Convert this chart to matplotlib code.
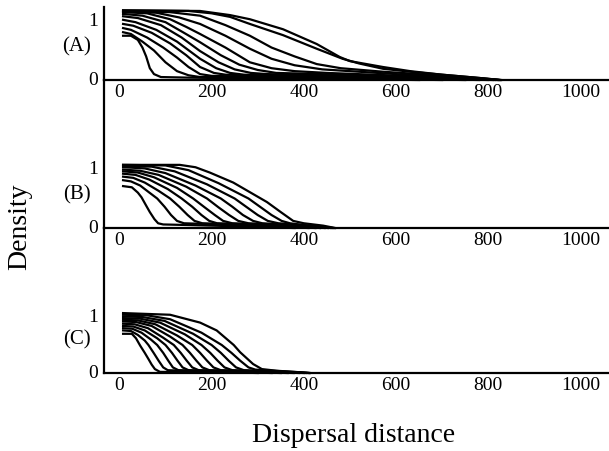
import matplotlib
matplotlib.use("Agg")
import matplotlib.pyplot as plt
import matplotlib.transforms as mtransforms

plt.rcParams['font.family'] = ['Liberation Serif', 'DejaVu Serif']

# Density profiles (distance, density) at successive times, one list per curve
panel_a = [
    [(8, .75), (25, .75), (40, .68), (50, .55), (58, .40), (66, .20), (75, .10), (90, .05), (150, .04), (250, .03), (400, .02), (550, .01), (650, 0)],
    [(8, .81), (25, .78), (50, .65), (75, .50), (100, .30), (125, .15), (150, .08), (175, .05), (300, .04), (450, .025), (600, .01), (700, 0)],
    [(8, .88), (25, .85), (60, .72), (95, .55), (125, .38), (150, .22), (175, .10), (200, .07), (320, .05), (470, .03), (620, .015), (750, 0)],
    [(8, .95), (30, .92), (70, .80), (110, .62), (145, .42), (175, .22), (205, .12), (230, .09), (350, .07), (500, .05), (650, .02), (780, 0)],
    [(8, 1.02), (35, .98), (80, .85), (125, .65), (175, .36), (210, .20), (240, .12), (270, .09), (400, .07), (550, .05), (700, .02), (800, 0)],
    [(8, 1.08), (40, 1.05), (90, .93), (135, .72), (175, .49), (215, .30), (250, .18), (285, .12), (320, .10), (450, .08), (600, .05), (720, .02), (810, 0)],
    [(8, 1.12), (50, 1.09), (100, .98), (140, .80), (175, .64), (220, .42), (260, .26), (300, .17), (340, .12), (480, .09), (640, .05), (750, .02), (815, 0)],
    [(8, 1.15), (60, 1.13), (110, 1.03), (145, .90), (175, .78), (230, .55), (283, .30), (330, .20), (380, .15), (450, .12), (550, .09), (680, .05), (770, .02), (820, 0)],
    [(8, 1.16), (80, 1.14), (130, 1.06), (175, .95), (230, .75), (283, .53), (330, .36), (380, .25), (440, .18), (520, .14), (620, .09), (710, .05), (785, .02), (822, 0)],
    [(8, 1.17), (110, 1.15), (175, 1.09), (230, .93), (283, .75), (330, .55), (380, .40), (428, .27), (480, .20), (572, .14), (631, .11), (700, .07), (780, .03), (824, 0)],
    [(8, 1.18), (150, 1.17), (200, 1.13), (240, 1.07), (283, .95), (355, .76), (428, .53), (484, .36), (520, .28), (572, .19), (631, .14), (700, .09), (780, .035), (826, 0)],
    [(8, 1.18), (175, 1.17), (240, 1.10), (283, 1.03), (355, .86), (428, .61), (478, .39), (500, .32), (572, .22), (631, .15), (700, .09), (780, .035), (828, 0)],
]

panel_b = [
    [(8, .71), (27, .69), (40, .60), (48, .52), (58, .38), (66, .27), (76, .15), (84, .08), (95, .06), (150, .05), (250, .03), (330, .01), (380, 0)],
    [(8, .81), (25, .79), (45, .72), (65, .60), (82, .50), (98, .36), (112, .22), (125, .12), (140, .08), (220, .06), (300, .04), (380, .01), (410, 0)],
    [(8, .87), (30, .85), (55, .77), (85, .63), (110, .50), (130, .36), (148, .22), (163, .12), (180, .08), (260, .06), (340, .03), (400, .01), (425, 0)],
    [(8, .92), (35, .90), (65, .82), (105, .66), (135, .50), (158, .36), (178, .22), (195, .12), (212, .08), (290, .06), (360, .03), (420, .01), (435, 0)],
    [(8, .96), (40, .94), (75, .86), (125, .68), (160, .50), (185, .35), (207, .22), (225, .12), (245, .08), (310, .06), (380, .03), (430, .01), (445, 0)],
    [(8, .99), (45, .97), (85, .90), (145, .70), (190, .50), (215, .35), (238, .22), (258, .12), (280, .08), (335, .06), (395, .03), (440, .01), (452, 0)],
    [(8, 1.03), (55, 1.01), (100, .93), (165, .72), (220, .50), (245, .36), (268, .22), (290, .12), (310, .08), (355, .06), (410, .03), (450, .01), (458, 0)],
    [(8, 1.05), (70, 1.04), (120, .96), (190, .74), (250, .50), (275, .36), (300, .22), (322, .12), (345, .08), (380, .06), (425, .03), (455, .01), (462, 0)],
    [(8, 1.07), (100, 1.06), (150, .98), (215, .76), (280, .50), (305, .36), (330, .22), (352, .12), (370, .08), (400, .05), (440, .02), (465, 0)],
    [(8, 1.07), (131, 1.07), (165, 1.03), (196, .94), (247, .77), (320, .44), (350, .27), (377, .12), (400, .08), (442, .04), (468, 0)],
]

panel_c = [
    [(8, .70), (27, .70), (36, .62), (45, .49), (55, .36), (63, .25), (70, .15), (77, .07), (88, .02), (150, .015), (250, .01), (300, 0)],
    [(8, .76), (25, .75), (40, .68), (55, .58), (63, .50), (75, .35), (85, .22), (95, .10), (105, .05), (180, .03), (270, .015), (330, 0)],
    [(8, .80), (28, .79), (48, .72), (68, .60), (82, .50), (95, .36), (106, .22), (116, .10), (128, .05), (200, .035), (290, .015), (350, 0)],
    [(8, .84), (30, .83), (55, .76), (82, .62), (100, .50), (114, .36), (126, .22), (137, .10), (150, .05), (220, .035), (310, .015), (365, 0)],
    [(8, .88), (33, .87), (62, .80), (95, .63), (118, .50), (133, .36), (146, .22), (158, .10), (172, .05), (240, .035), (325, .015), (378, 0)],
    [(8, .92), (36, .91), (70, .84), (110, .65), (137, .50), (153, .36), (167, .22), (180, .10), (195, .05), (260, .035), (340, .015), (390, 0)],
    [(8, .95), (40, .94), (78, .87), (125, .67), (158, .50), (175, .36), (190, .22), (204, .10), (220, .05), (280, .035), (355, .015), (400, 0)],
    [(8, .98), (45, .97), (88, .90), (142, .69), (178, .50), (197, .36), (213, .22), (228, .10), (245, .05), (300, .035), (365, .015), (405, 0)],
    [(8, 1.01), (50, 1.0), (98, .93), (160, .70), (200, .50), (220, .36), (237, .22), (253, .10), (270, .05), (320, .035), (375, .015), (410, 0)],
    [(8, 1.04), (60, 1.03), (110, .96), (178, .72), (222, .50), (243, .36), (262, .22), (280, .10), (295, .06), (335, .04), (385, .015), (412, 0)],
    [(8, 1.07), (110, 1.04), (175, .90), (211, .76), (248, .50), (262, .37), (290, .16), (309, .07), (341, .04), (380, .02), (413, 0)],
]

panel_names = ["(A)", "(B)", "(C)"]
x_ticks = [0, 200, 400, 600, 800, 1000]
y_ticks = [0, 1]

W, H = 609, 452
fig = plt.figure(figsize=(W / 100, H / 100), dpi=100)

# panel frames in pixels: (top, bottom, pixels per density unit)
frames = [(8, 81, 59.0), (81, 229, 59.0), (229, 374, 56.0)]
left_px, right_px = 104, 609
xlim = (-33.4, 1062)

label_shift = mtransforms.ScaledTranslation(0, 2.5 / 100, fig.dpi_scale_trans)

for curves, name, (top, bot, scale) in zip([panel_a, panel_b, panel_c], panel_names, frames):
    ax = fig.add_axes([left_px / W, (H - bot) / H, (right_px - left_px) / W, (bot - top) / H])
    ax.set_facecolor('none')
    for curve in curves:
        xs = [p[0] for p in curve]
        ys = [p[1] for p in curve]
        ax.plot(xs, ys, color='black', lw=1.6, solid_joinstyle='round', clip_on=False)
    ax.set_xlim(*xlim)
    ax.set_ylim(0, (bot - top) / scale)
    for side in ('top', 'right'):
        ax.spines[side].set_visible(False)
    for side in ('left', 'bottom'):
        ax.spines[side].set_linewidth(1.6)
    ax.set_xticks(x_ticks)
    ax.set_xticklabels([str(t) for t in x_ticks])
    ax.set_yticks(y_ticks)
    ax.set_yticklabels([str(t) for t in y_ticks])
    ax.tick_params(axis='both', length=0, labelsize=14)
    ax.tick_params(axis='x', pad=2.5)
    ax.tick_params(axis='y', pad=4.5)
    for lab in ax.get_yticklabels():
        lab.set_transform(lab.get_transform() + label_shift)
    ax.text(77 / W, 1 - (bot - 34) / H, name, transform=fig.transFigure,
            ha='center', va='center', fontsize=15)

fig.text(20 / W, 1 - 227 / H, "Density", rotation=90, ha='center', va='center', fontsize=20)
fig.text(354 / W, 1 - 436 / H, "Dispersal distance", ha='center', va='center', fontsize=20)

fig.savefig("out.png", dpi=100)
